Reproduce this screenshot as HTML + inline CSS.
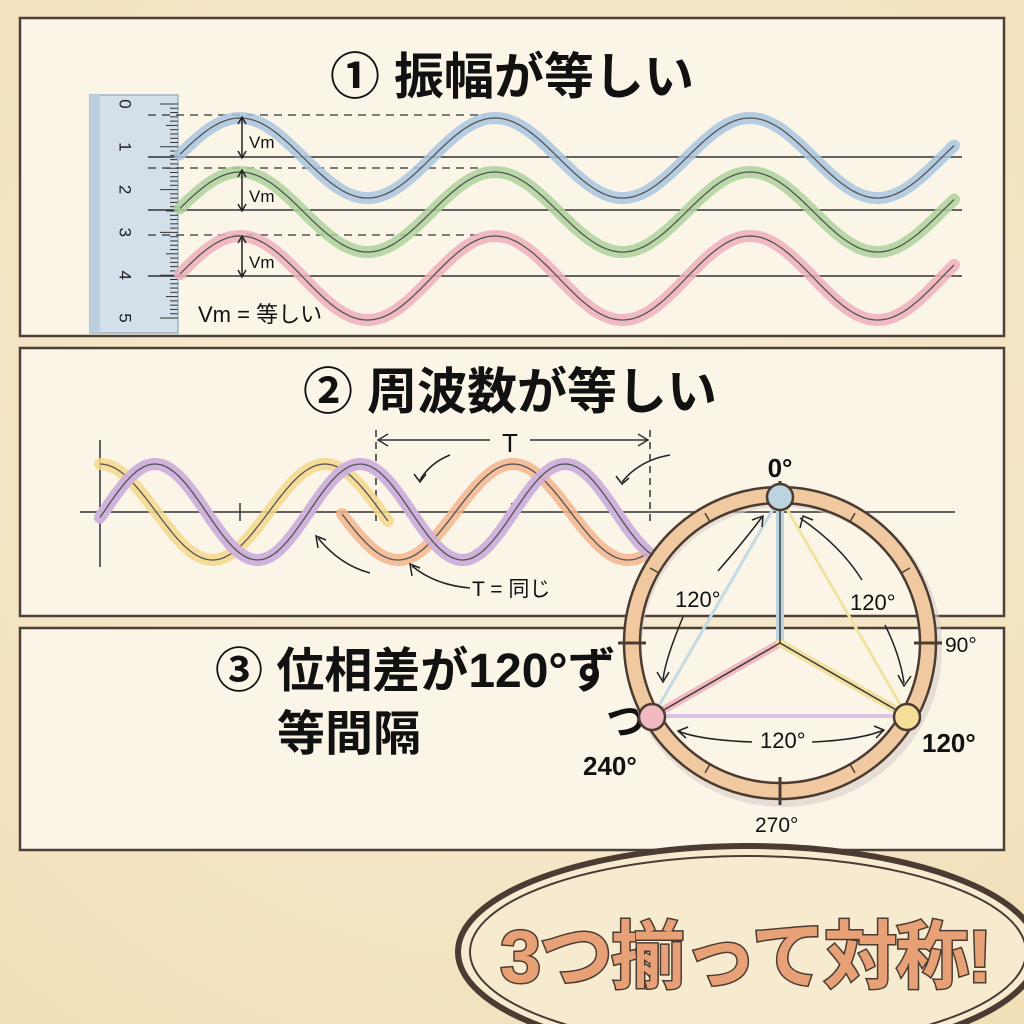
<!DOCTYPE html>
<html><head><meta charset="utf-8"><style>
html,body{margin:0;padding:0;width:1024px;height:1024px;overflow:hidden;background:#f6e9cc}
svg{display:block}
text{font-family:"Liberation Sans","Noto Sans CJK JP",sans-serif}
</style></head><body>
<svg id="s" width="1024" height="1024" viewBox="0 0 1024 1024" xmlns="http://www.w3.org/2000/svg">
<defs><radialGradient id="bg" cx="50%" cy="40%" r="75%"><stop offset="0" stop-color="#f8efd9"/><stop offset="1" stop-color="#f1dfb8"/></radialGradient></defs>
<rect width="1024" height="1024" fill="url(#bg)"/>
<rect x="20" y="18" width="984" height="318" fill="#faf5e7" stroke="#4d4038" stroke-width="2.5"/>
<rect x="20" y="348" width="984" height="268" fill="#faf5e7" stroke="#4d4038" stroke-width="2.5"/>
<rect x="20" y="628" width="984" height="222" fill="#faf5e7" stroke="#4d4038" stroke-width="2.5"/>

<text x="512" y="94" font-size="50" font-weight="bold" text-anchor="middle" fill="#111">① 振幅が等しい</text>
<text x="510" y="409" font-size="50" font-weight="bold" text-anchor="middle" fill="#111">② 周波数が等しい</text>
<text x="215" y="687" font-size="48" font-weight="bold" fill="#111">③ 位相差が120°ず</text>
<text x="277" y="750" font-size="48" font-weight="bold" fill="#111">等間隔</text>
<text x="606" y="735" font-size="40" font-weight="bold" fill="#111">つ</text>

<rect x="90" y="95" width="88" height="238" fill="#d3e0ea" stroke="#9fb3c4" stroke-width="1.5"/>
<rect x="90" y="95" width="10" height="238" fill="#bccfdf"/>
<g id="ticks" stroke="#333" stroke-width="1"></g>
<g font-size="17" fill="#222" id="rnums"></g>

<g stroke="#333" stroke-width="1.5" fill="none">
<line x1="148" y1="157" x2="962" y2="157"/>
<line x1="148" y1="210" x2="962" y2="210"/>
<line x1="148" y1="276" x2="962" y2="276"/>
<g stroke-dasharray="8,6" stroke-width="1.3">
<line x1="148" y1="115" x2="485" y2="115"/>
<line x1="148" y1="168" x2="485" y2="168"/>
<line x1="148" y1="235" x2="485" y2="235"/>
</g>
</g>
<g id="waves1"></g>
<g stroke="#222" stroke-width="1.5" fill="none">
<line x1="242" y1="118" x2="242" y2="157"/><path d="M238,124 L242,117 L246,124 M238,151 L242,158 L246,151"/>
<line x1="242" y1="171" x2="242" y2="210"/><path d="M238,177 L242,170 L246,177 M238,204 L242,211 L246,204"/>
<line x1="242" y1="237" x2="242" y2="276"/><path d="M238,243 L242,236 L246,243 M238,270 L242,277 L246,270"/>
</g>
<g font-size="17" fill="#111"><text x="249" y="148">Vm</text><text x="249" y="202">Vm</text><text x="249" y="268">Vm</text>
<text x="198" y="322" font-size="22">Vm = 等しい</text></g>

<g stroke="#333" stroke-width="1.5" fill="none">
<line x1="80" y1="512" x2="955" y2="512"/>
<line x1="100" y1="440" x2="100" y2="567"/>
<line x1="240" y1="503" x2="240" y2="521"/>
<line x1="512" y1="503" x2="512" y2="521"/>
<line x1="376" y1="430" x2="376" y2="521" stroke-dasharray="7,5"/>
<line x1="650" y1="430" x2="650" y2="521" stroke-dasharray="7,5"/>
<line x1="378" y1="440" x2="490" y2="440"/><line x1="530" y1="440" x2="648" y2="440"/>
<path d="M388,434 L378,440 L388,446 M638,434 L648,440 L638,446"/>
</g>
<text x="510" y="452" font-size="26" text-anchor="middle" fill="#111">T</text>
<g id="waves2"></g>
<g stroke="#222" stroke-width="1.5" fill="none">
<path d="M450,455 Q430,463 420,480"/><path d="M414,474 L420,482 L426,474"/>
<path d="M670,455 Q640,460 622,482"/><path d="M616,476 L622,484 L629,478"/>
<path d="M370,573 Q340,565 318,538"/><path d="M318,548 L316,536 L326,540"/>
<path d="M470,588 Q435,585 412,566"/><path d="M412,576 L410,564 L420,568"/>
</g>
<text x="472" y="596" font-size="21" fill="#111">T = 同じ</text>

<ellipse cx="748" cy="952" rx="290" ry="106" fill="#f7ebcf" stroke="#4b3c33" stroke-width="6"/>
<ellipse cx="748" cy="952" rx="278" ry="96" fill="none" stroke="#4b3c33" stroke-width="2"/>
<text x="500" y="982" font-size="74" font-weight="bold" fill="#e8a176" stroke="#4b3c33" stroke-width="3" paint-order="stroke" letter-spacing="-2">3つ揃って対称!</text>

<circle cx="783" cy="648" r="150" fill="none" stroke="#d8cfc8" stroke-width="18" opacity="0.6"/>
<circle cx="780" cy="643" r="148" fill="none" stroke="#f1c9a0" stroke-width="16"/>
<circle cx="780" cy="643" r="156" fill="none" stroke="#4b3c33" stroke-width="2.5"/>
<circle cx="780" cy="643" r="140" fill="none" stroke="#4b3c33" stroke-width="2.5"/>
<g id="cticks" stroke="#4b3c33"></g>
<g stroke-linecap="round">
<line x1="780" y1="643" x2="780" y2="497" stroke="#bcd3e0" stroke-width="8"/>
<line x1="780" y1="643" x2="653" y2="716" stroke="#f2b9c0" stroke-width="8"/>
<line x1="780" y1="643" x2="907" y2="716" stroke="#f3dfa0" stroke-width="8"/>
<line x1="780" y1="497" x2="653" y2="716" stroke="#c4dae5" stroke-width="3"/>
<line x1="780" y1="497" x2="907" y2="716" stroke="#f2e2a2" stroke-width="3"/>
<line x1="653" y1="716" x2="907" y2="716" stroke="#dcc2e4" stroke-width="4"/>
</g>
<g stroke="#3a3a3a" stroke-width="1.5"><line x1="780" y1="643" x2="780" y2="505"/><line x1="780" y1="643" x2="662" y2="711"/><line x1="780" y1="643" x2="898" y2="711"/></g>
<circle cx="780" cy="497" r="13" fill="#bcd3e0" stroke="#4b3c33" stroke-width="2.5"/>
<circle cx="652" cy="717" r="13" fill="#f2b9c0" stroke="#4b3c33" stroke-width="2.5"/>
<circle cx="907" cy="717" r="13" fill="#f6de98" stroke="#4b3c33" stroke-width="2.5"/>
<g stroke="#222" stroke-width="1.5" fill="none">
<path d="M718,571 Q745,540 762,517"/><path d="M752,520 L763,516 L762,527"/>
<path d="M683,617 Q665,660 663,680"/><path d="M657,672 L663,682 L669,672"/>
<path d="M800,518 Q840,545 862,580"/><path d="M800,528 L803,516 L813,520"/>
<path d="M885,625 Q900,655 904,683"/><path d="M898,675 L904,686 L911,676"/>
<path d="M752,742 Q700,740 678,731"/><path d="M688,727 L678,731 L686,738"/>
<path d="M812,742 Q860,740 884,730"/><path d="M874,726 L884,730 L876,738"/>
</g>
<g fill="#111">
<text x="780" y="477" font-size="26" font-weight="bold" text-anchor="middle">0°</text>
<text x="675" y="607" font-size="22">120°</text>
<text x="850" y="610" font-size="22">120°</text>
<text x="760" y="748" font-size="22">120°</text>
<text x="945" y="652" font-size="21">90°</text>
<text x="922" y="752" font-size="26" font-weight="bold">120°</text>
<text x="583" y="775" font-size="26" font-weight="bold">240°</text>
<text x="755" y="832" font-size="21">270°</text>
</g>
</svg>
<script>
var NS="http://www.w3.org/2000/svg";
function el(p,t,a){var e=document.createElementNS(NS,t);for(var k in a)e.setAttribute(k,a[k]);document.getElementById(p).appendChild(e);return e;}
function wave(x0,x1,cy,A,P,peakX){var d="";for(var x=x0;x<=x1;x+=3){var y=cy-A*Math.cos(2*Math.PI*(x-peakX)/P);d+=(x==x0?"M":"L")+x.toFixed(1)+","+y.toFixed(1);}return d;}
function draw(g,d,col){el(g,"path",{d:d,fill:"none",stroke:col,"stroke-width":12,"stroke-linecap":"round",opacity:0.85});el(g,"path",{d:d,fill:"none",stroke:"#555","stroke-width":1.3});}
draw("waves1",wave(180,955,158,40,255,240),"#a9c6df");
draw("waves1",wave(180,955,212,40,255,240),"#aed29b");
draw("waves1",wave(180,955,278,42,255,240),"#eeafbb");
draw("waves2",wave(100,390,512,48,225,100),"#f3d88b");
draw("waves2",wave(100,658,512,48,205,155),"#cfb2dc");
draw("waves2",wave(342,650,512,48,230,513),"#f2b58c");
draw("waves2",wave(100,658,512,48,205,155),"#cfb2dc");
for(var i=0;i<=50;i++){var y=104+i*4.28;var L=i%10==0?18:(i%5==0?12:8);el("ticks","line",{x1:178-L,y1:y,x2:178,y2:y});}
for(var n=0;n<=5;n++){var t=el("rnums","text",{x:0,y:0,transform:"translate(124,"+(104+n*42.8)+") rotate(90)","text-anchor":"middle","dominant-baseline":"middle"});t.textContent=n;}
for(var a=0;a<360;a+=30){var r=a*Math.PI/180;var big=a%90==0;var r1=big?134:140,r2=big?162:150;el("cticks","line",{x1:780+r1*Math.sin(r),y1:643-r1*Math.cos(r),x2:780+r2*Math.sin(r),y2:643-r2*Math.cos(r),"stroke-width":big?3:1.5});}
</script>
</body></html>
